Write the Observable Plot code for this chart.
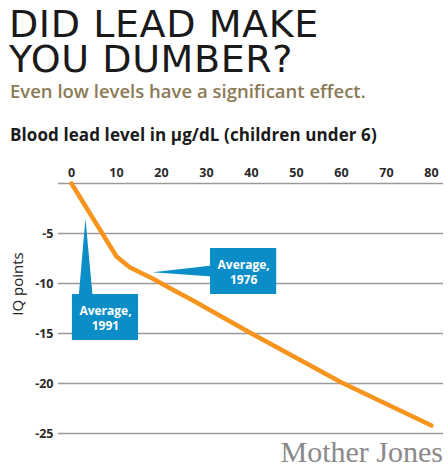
<!DOCTYPE html>
<html>
<head>
<meta charset="utf-8">
<script src="https://cdn.jsdelivr.net/npm/d3@7"></script>
<script src="https://cdn.jsdelivr.net/npm/@observablehq/plot@0.6"></script>
<style>
  html, body { margin: 0; padding: 0; background: #fff; }
  #wrap { position: relative; width: 448px; height: 476px; overflow: hidden; font-family: "Open Sans", sans-serif; }
  .abs { position: absolute; white-space: nowrap; }
  .title { left: 9px; font-family: "DejaVu Sans", sans-serif; font-size: 38px; line-height: 34px; color: #1a1a1a; font-weight: 400; letter-spacing: 0.6px; }
  #title1 { top: 7px; }
  #title2 { top: 42px; }
  #subtitle { left: 10px; top: 78px; font-size: 18.5px; color: #8b7a55; font-weight: 600; letter-spacing: 0px; }
  #xlabel { left: 10px; top: 123px; font-size: 17px; color: #1a1a1a; font-weight: 700; letter-spacing: 0.1px; }
  #ylabel { left: 17px; top: 284px; font-size: 15px; color: #222; transform: translate(-50%, -50%) rotate(-90deg); }
  #logo { right: 5px; top: 435px; font-family: "Liberation Serif", serif; font-size: 30px; line-height: 1.15; color: #8a8a8a; letter-spacing: 0px; }
  #chart { left: 0; top: 150px; }
</style>
</head>
<body>
<div id="wrap">
  <div id="title1" class="abs title">DID LEAD MAKE</div>
  <div id="title2" class="abs title">YOU DUMBER?</div>
  <div id="subtitle" class="abs">Even low levels have a significant effect.</div>
  <div id="xlabel" class="abs">Blood lead level in µg/dL (children under 6)</div>
  <div id="ylabel" class="abs">IQ points</div>
  <div id="chart" class="abs"></div>
  <div id="logo" class="abs">Mother Jones</div>
</div>
<script>
// Data
const leadLevel = [0, 10, 13, 18, 22, 27, 40, 60, 80];
const iqChange  = [0, -7.3, -8.4, -9.5, -10.5, -11.7, -15, -19.9, -24.2];
const xTicks = [0, 10, 20, 30, 40, 50, 60, 70, 80];
const yTicks = [-5, -10, -15, -20, -25];
const gridValues = [0, -5, -10, -15, -20, -25];

// Callout annotations: average blood lead level for a year
const calloutLabels = ["Average,\n1976", "Average,\n1991"];
const calloutTipX = [18, 3.1];
const calloutTipY = [-8.87, -3.5];

const curve = leadLevel.map((v, i) => ({lead: v, iq: iqChange[i]}));

// Box + wedge geometry (in data units) for each callout
const boxes = [
  {label: calloutLabels[0], x1: 30.9, x2: 45.6, y1: -6.5, y2: -11.1},
  {label: calloutLabels[1], x1: 0.2, x2: 14.9, y1: -11.1, y2: -15.7}
];
const wedges = [
  {id: "a", x: calloutTipX[0], y: calloutTipY[0]},
  {id: "a", x: 31.2, y: -8.2},
  {id: "a", x: 31.2, y: -9.3},
  {id: "b", x: calloutTipX[1], y: calloutTipY[1]},
  {id: "b", x: 1.6, y: -11.3},
  {id: "b", x: 4.7, y: -11.3}
];

const blue = "#0b8ec8";

const plot = Plot.plot({
  width: 448,
  height: 300,
  marginTop: 33,
  marginBottom: 17,
  marginLeft: 58,
  marginRight: 5,
  style: {fontFamily: "'Open Sans', sans-serif", fontSize: "12.5px", fontWeight: 700, color: "#2a2a2a", background: "transparent"},
  x: {domain: [-2.89, 82.67]},
  y: {domain: [-25, 0]},
  marks: [
    Plot.ruleY(gridValues, {stroke: "#9a9a9a", strokeWidth: 1.5}),
    Plot.axisX({anchor: "top", ticks: xTicks, tickSize: 0, tickPadding: 7, label: null, tickFormat: d => String(d), style: "letter-spacing:1px"}),
    Plot.axisY({anchor: "left", ticks: yTicks, tickSize: 0, tickPadding: 5, label: null, tickFormat: d => String(d)}),
    Plot.line(curve, {x: "lead", y: "iq", stroke: "#f7941d", strokeWidth: 4.5, strokeLinejoin: "round", strokeLinecap: "round"}),
    Plot.line(wedges, {x: "x", y: "y", z: "id", fill: blue, stroke: "none"}),
    Plot.rect(boxes, {x1: "x1", x2: "x2", y1: "y1", y2: "y2", fill: blue}),
    Plot.text(boxes, {x: d => (d.x1 + d.x2) / 2, y: d => (d.y1 + d.y2) / 2, text: "label", fill: "white", fontSize: 12, fontWeight: 700, lineHeight: 1.3})
  ]
});
document.getElementById("chart").appendChild(plot);
</script>
</body>
</html>
